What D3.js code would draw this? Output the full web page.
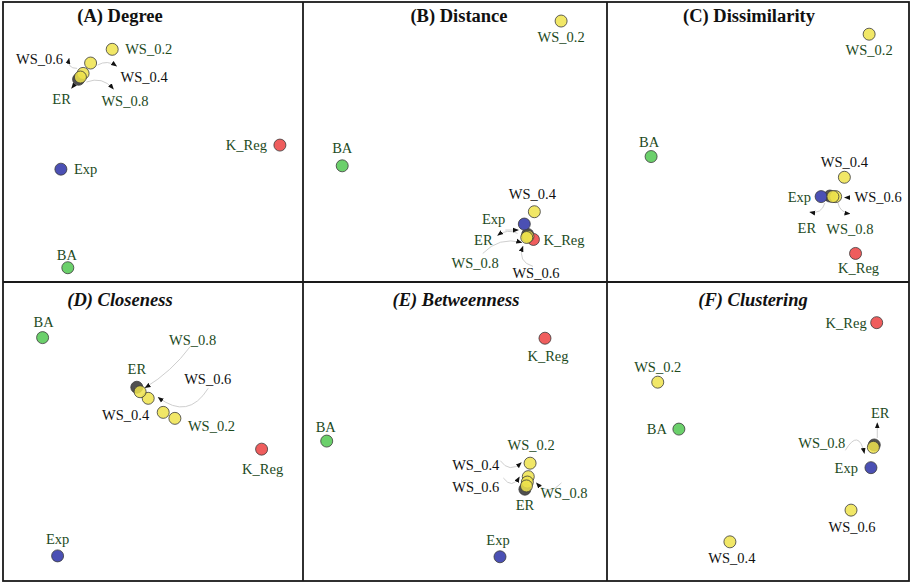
<!DOCTYPE html>
<html>
<head>
<meta charset="utf-8">
<script src="https://cdn.jsdelivr.net/npm/d3@7"></script>
<style>
  html, body { margin: 0; padding: 0; background: #fff; }
  svg { display: block; }
</style>
</head>
<body>
<svg id="chart" width="911" height="583"></svg>
<script>
// network models, same order in every panel
const models = ["ER", "BA", "Exp", "K_Reg", "WS_0.2", "WS_0.4", "WS_0.6", "WS_0.8"];
const panelTitles = ["(A) Degree", "(B) Distance", "(C) Dissimilarity",
                     "(D) Closeness", "(E) Betweenness", "(F) Clustering"];

// 2-d embedding coordinates (0..1)
const degreeX        = [0.252, 0.216, 0.193, 0.923, 0.364, 0.292, 0.267, 0.258];
const degreeY        = [0.724, 0.051, 0.403, 0.489, 0.831, 0.782, 0.745, 0.732];
const distanceX      = [0.739, 0.129, 0.728, 0.758, 0.849, 0.761, 0.740, 0.736];
const distanceY      = [0.170, 0.415, 0.207, 0.152, 0.932, 0.251, 0.163, 0.159];
const dissimilarityX = [0.738, 0.146, 0.709, 0.823, 0.868, 0.786, 0.757, 0.748];
const dissimilarityY = [0.307, 0.448, 0.305, 0.102, 0.885, 0.374, 0.305, 0.305];
const closenessX     = [0.446, 0.132, 0.182, 0.862, 0.573, 0.534, 0.484, 0.457];
const closenessY     = [0.648, 0.814, 0.084, 0.441, 0.544, 0.564, 0.611, 0.633];
const betweennessX   = [0.730, 0.078, 0.648, 0.796, 0.747, 0.741, 0.738, 0.735];
const betweennessY   = [0.307, 0.468, 0.081, 0.812, 0.394, 0.349, 0.331, 0.318];
const clusteringX    = [0.885, 0.238, 0.874, 0.893, 0.168, 0.407, 0.808, 0.882];
const clusteringY    = [0.455, 0.508, 0.379, 0.864, 0.665, 0.131, 0.237, 0.447];

const panelX = [degreeX, distanceX, dissimilarityX, closenessX, betweennessX, clusteringX];
const panelY = [degreeY, distanceY, dissimilarityY, closenessY, betweennessY, clusteringY];

// ---- layout / style ----
const serif = "'Liberation Serif', 'Times New Roman', serif";
const colEdges = [3, 303, 607, 909];
const rowEdges = [2, 282, 581];
const titleCx = [120, 459, 749, 120, 456, 753];

const fillColor = d3.scaleOrdinal()
    .domain(models)
    .range(["#505050", "#6bd06b", "#4b50b4", "#ef5d5d", "#efe34c", "#efe34c", "#efe34c", "#efe34c"]);
const blackLabels = ["WS_0.4", "WS_0.6"];

// label offsets from the point: [dx, dy, anchor]  (s = start, m = middle, e = end)
const labelPos = [
  { ER: [-17, 20, "m"], BA: [-1, -13, "m"], Exp: [13, 0, "s"], K_Reg: [-13, 0, "e"],
    "WS_0.2": [13, 0, "s"], "WS_0.4": [30, 14, "s"], "WS_0.6": [-20, -14, "e"], "WS_0.8": [21, 24, "s"] },
  { ER: [-35, 6, "e"], BA: [0, -18, "m"], Exp: [-19, -5, "e"], K_Reg: [10, 1, "s"],
    "WS_0.2": [0, 16, "m"], "WS_0.4": [-2, -18, "m"], "WS_0.6": [8, 37, "m"], "WS_0.8": [-28, 26, "e"] },
  { ER: [-23, 32, "m"], BA: [-2, -15, "m"], Exp: [-10, 0, "e"], K_Reg: [3, 15, "m"],
    "WS_0.2": [0, 16, "m"], "WS_0.4": [0, -15, "m"], "WS_0.6": [19, 0, "s"], "WS_0.8": [17, 32, "m"] },
  { ER: [0, -18, "m"], BA: [1, -16, "m"], Exp: [0, -17, "m"], K_Reg: [1, 20, "m"],
    "WS_0.2": [13, 8, "s"], "WS_0.4": [-14, 3, "e"], "WS_0.6": [36, -19, "s"], "WS_0.8": [29, -52, "s"] },
  { ER: [0, 16, "m"], BA: [-1, -14, "m"], Exp: [-2, -17, "m"], K_Reg: [3, 18, "m"],
    "WS_0.2": [1, -18, "m"], "WS_0.4": [-29, -12, "e"], "WS_0.6": [-28, 5, "e"], "WS_0.8": [14, 7, "s"] },
  { ER: [6, -32, "m"], BA: [-12, 0, "e"], Exp: [-13, 0, "e"], K_Reg: [-10, 0, "e"],
    "WS_0.2": [0, -15, "m"], "WS_0.4": [2, 16, "m"], "WS_0.6": [1, 17, "m"], "WS_0.8": [-28, -4, "e"] }
];

// repel connectors, relative to their point: from, to (arrow tip), bend
const connectors = [
  [ { m: "ER", from: [-3, 4], to: [-7, 9], bend: 0 },
    { m: "WS_0.4", from: [7, 2], to: [26, 3], bend: -3 },
    { m: "WS_0.6", from: [-6, -5], to: [-14, -15], bend: -4 },
    { m: "WS_0.8", from: [6, 5], to: [33, 12], bend: -5 } ],
  [ { m: "ER", from: [-10, -1], to: [-30, 1], bend: 3 },
    { m: "Exp", from: [-19, 6], to: [-6, 6], bend: 0 },
    { m: "WS_0.8", from: [-44, 16], to: [-5, 5], bend: -6 },
    { m: "WS_0.6", from: [5, 30], to: [-5, 10], bend: -6 } ],
  [ { m: "ER", from: [-5, 7], to: [-20, 16], bend: -4 },
    { m: "WS_0.8", from: [5, 6], to: [17, 17], bend: 3 },
    { m: "WS_0.6", from: [14, 1], to: [9, 1], bend: 0 } ],
  [ { m: "WS_0.8", from: [50, -45], to: [5, -4], bend: -3 },
    { m: "WS_0.6", from: [60, -10], to: [10, -1], bend: -14 } ],
  [ { m: "WS_0.4", from: [-28, -16], to: [-7, -14], bend: 6 },
    { m: "WS_0.6", from: [-24, -4], to: [-8, -5], bend: 6 },
    { m: "WS_0.8", from: [35, -3], to: [10, -3], bend: -7 } ],
  [ { m: "ER", from: [3, -7], to: [3, -22], bend: 0 },
    { m: "WS_0.8", from: [-28, 3], to: [-9, 6], bend: -12 } ]
];

const svg = d3.select("#chart");

const defs = svg.append("defs");
defs.append("marker")
    .attr("id", "head")
    .attr("viewBox", "0 -5 10 10")
    .attr("refX", 9)
    .attr("refY", 0)
    .attr("markerUnits", "userSpaceOnUse")
    .attr("markerWidth", 6)
    .attr("markerHeight", 6)
    .attr("orient", "auto")
  .append("path")
    .attr("d", "M0,-4L10,0L0,4Z")
    .attr("fill", "#111");

// draw order: ER first so the WS points overlap it
const drawOrder = ["ER", "BA", "Exp", "K_Reg", "WS_0.2", "WS_0.4", "WS_0.6", "WS_0.8"];

panelTitles.forEach(function (title, p) {
    let col = p % 3, row = Math.floor(p / 3);
    let left = colEdges[col], right = colEdges[col + 1];
    let top = rowEdges[row], bottom = rowEdges[row + 1];

    let xScale = d3.scaleLinear().domain([0, 1]).range([left, right]);
    let yScale = d3.scaleLinear().domain([0, 1]).range([bottom, top]);

    let pts = models.map(function (m, i) {
        return { model: m, x: xScale(panelX[p][i]), y: yScale(panelY[p][i]) };
    });
    let byName = {};
    pts.forEach(function (d) { byName[d.model] = d; });

    let g = svg.append("g").attr("class", "panel");

    g.append("text")
        .attr("x", titleCx[p])
        .attr("y", top + (row === 0 ? 14 : 18))
        .attr("text-anchor", "middle")
        .attr("dominant-baseline", "central")
        .attr("font-family", serif)
        .attr("font-size", 18.5)
        .attr("font-weight", "bold")
        .attr("font-style", row === 1 ? "italic" : "normal")
        .attr("fill", "#111")
        .text(title);

    // connectors
    g.selectAll("path.link")
        .data(connectors[p])
        .enter()
        .append("path")
        .attr("class", "link")
        .attr("fill", "none")
        .attr("stroke", "#c8c8c8")
        .attr("stroke-width", 0.9)
        .attr("marker-end", "url(#head)")
        .attr("d", function (c) {
            let o = byName[c.m];
            let x0 = o.x + c.from[0], y0 = o.y + c.from[1];
            let x1 = o.x + c.to[0], y1 = o.y + c.to[1];
            let dx = x1 - x0, dy = y1 - y0, len = Math.sqrt(dx * dx + dy * dy) || 1;
            let cx = (x0 + x1) / 2 - dy / len * c.bend * 2;
            let cy = (y0 + y1) / 2 + dx / len * c.bend * 2;
            let path = d3.path();
            path.moveTo(x0, y0);
            path.quadraticCurveTo(cx, cy, x1, y1);
            return path.toString();
        });

    let ordered = drawOrder.map(function (m) { return byName[m]; });

    g.selectAll("circle")
        .data(ordered)
        .enter()
        .append("circle")
        .attr("cx", function (d) { return d.x; })
        .attr("cy", function (d) { return d.y; })
        .attr("r", 6)
        .attr("fill", function (d) { return fillColor(d.model); })
        .attr("fill-opacity", function (d) { return d.model.startsWith("WS") ? 0.85 : 1; })
        .attr("stroke", "#3a3a3a")
        .attr("stroke-width", 0.8);

    g.selectAll("text.lbl")
        .data(pts)
        .enter()
        .append("text")
        .attr("class", "lbl")
        .attr("font-family", serif)
        .attr("font-size", 14.5)
        .attr("x", function (d) { return d.x + labelPos[p][d.model][0]; })
        .attr("y", function (d) { return d.y + labelPos[p][d.model][1]; })
        .attr("dominant-baseline", "central")
        .attr("text-anchor", function (d) {
            let a = labelPos[p][d.model][2];
            return a === "s" ? "start" : (a === "e" ? "end" : "middle");
        })
        .attr("fill", function (d) {
            return blackLabels.indexOf(d.model) >= 0 ? "#111" : "#1d4a1d";
        })
        .text(function (d) { return d.model; });
});

// panel frames
let frame = svg.append("g")
    .attr("fill", "none")
    .attr("stroke", "#1a1a1a")
    .attr("stroke-width", 1.8);
frame.append("rect")
    .attr("x", colEdges[0]).attr("y", rowEdges[0])
    .attr("width", colEdges[3] - colEdges[0])
    .attr("height", rowEdges[2] - rowEdges[0]);
[colEdges[1], colEdges[2]].forEach(function (x) {
    frame.append("line").attr("x1", x).attr("x2", x).attr("y1", rowEdges[0]).attr("y2", rowEdges[2]);
});
frame.append("line")
    .attr("x1", colEdges[0]).attr("x2", colEdges[3])
    .attr("y1", rowEdges[1]).attr("y2", rowEdges[1]);
</script>
</body>
</html>
